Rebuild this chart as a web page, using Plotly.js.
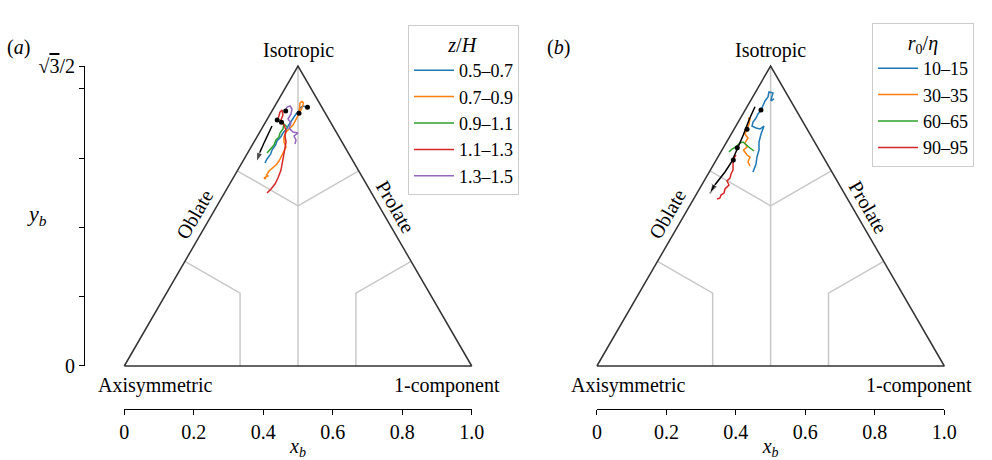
<!DOCTYPE html>
<html><head><meta charset="utf-8">
<script src="https://cdn.plot.ly/plotly-3.0.1.min.js"></script>
<style>html,body{margin:0;padding:0;background:#fff}#chart{width:992px;height:460px}</style>
</head><body><div id="chart"></div>
<script>
// ---------- data (barycentric coordinates x_b, y_b) ----------
const zhLabels = ['0.5–0.7', '0.7–0.9', '0.9–1.1', '1.1–1.3', '1.3–1.5'];
const r0Labels = ['10–15', '30–35', '60–65', '90–95'];
const seriesColors = ['#1f77b4', '#ff7f0e', '#2ca02c', '#d62728', '#9467bd'];

// panel (a): z/H
const zh1x = [0.5279,0.5144,0.5058,0.5029,0.4942,0.4856,0.4790,0.4712,0.4675,0.4568,0.4502,0.4395,0.4358,0.4252,0.4214,0.4108,0.4050];
const zh1y = [0.7468,0.7506,0.7448,0.7361,0.7275,0.7159,0.7044,0.6928,0.6842,0.6726,0.6611,0.6495,0.6380,0.6235,0.6120,0.5976,0.5860];
const zh2x = [0.5029,0.5043,0.5058,0.5115,0.5158,0.5115,0.5029,0.4942,0.4856,0.4741,0.4655,0.4597,0.4597,0.4655,0.4597,0.4539,0.4453,0.4367,0.4252,0.4165,0.4093,0.4136,0.4021,0.4079];
const zh2y = [0.7304,0.7448,0.7592,0.7636,0.7592,0.7448,0.7275,0.7102,0.6957,0.6842,0.6755,0.6611,0.6466,0.6322,0.6207,0.6062,0.5918,0.5802,0.5716,0.5629,0.5514,0.5485,0.5427,0.5398];
const zh3x = [0.4683,0.4597,0.4568,0.4482,0.4453,0.4367,0.4309,0.4223,0.4165,0.4108];
const zh3y = [0.6899,0.6986,0.6842,0.6726,0.6611,0.6524,0.6380,0.6293,0.6207,0.6149];
const zh4x = [0.4424,0.4482,0.4539,0.4568,0.4511,0.4597,0.4655,0.4626,0.4655,0.4626,0.4597,0.4568,0.4511,0.4424,0.4338,0.4223,0.4108];
const zh4y = [0.7130,0.7332,0.7390,0.7246,0.7102,0.6957,0.6813,0.6640,0.6466,0.6293,0.6091,0.5889,0.5658,0.5427,0.5254,0.5110,0.4994];
const zh5x = [0.4626,0.4683,0.4770,0.4827,0.4798,0.4712,0.4798,0.4741,0.4856,0.5000,0.4885,0.4942,0.4914];
const zh5y = [0.7332,0.7477,0.7506,0.7419,0.7275,0.7130,0.7015,0.6871,0.6755,0.6726,0.6640,0.6524,0.6409];
const zhStartX = [0.5273,0.5029,0.4525,0.4401,0.4646];
const zhStartY = [0.7468,0.7295,0.7035,0.7102,0.7361];
const arrowAx = [0.4252,0.4136,0.4021,0.3906,0.3805];
const arrowAy = [0.6928,0.6697,0.6438,0.6178,0.5889];

// panel (b): r0/eta
const r1x = [0.5098,0.5011,0.5040,0.5069,0.4954,0.4925,0.4839,0.4781,0.4724,0.4637,0.4580,0.4493,0.4465,0.4580,0.4695,0.4810,0.4724,0.4666,0.4666,0.4608,0.4580,0.4493];
const r1y = [0.7708,0.7650,0.7794,0.7881,0.7910,0.7765,0.7650,0.7535,0.7390,0.7275,0.7159,0.7044,0.6928,0.6871,0.6842,0.6928,0.6697,0.6466,0.6235,0.6033,0.5831,0.5600];
const r2x = [0.4349,0.4407,0.4378,0.4321,0.4263,0.4349,0.4263,0.4321,0.4220,0.4321,0.4407,0.4349,0.4407];
const r2y = [0.7159,0.7130,0.6986,0.6842,0.6697,0.6582,0.6438,0.6322,0.6235,0.6091,0.6033,0.5889,0.5774];
const r3x = [0.3802,0.3889,0.4004,0.4119,0.4205,0.4292,0.4407,0.4522];
const r3y = [0.6178,0.6264,0.6322,0.6438,0.6466,0.6380,0.6293,0.6207];
const r4x = [0.4004,0.3946,0.3918,0.3918,0.3860,0.3831,0.3745,0.3802,0.3687,0.3659,0.3572,0.3543,0.3457];
const r4y = [0.6091,0.6005,0.5831,0.5658,0.5543,0.5427,0.5341,0.5225,0.5110,0.4994,0.4936,0.4850,0.4821];
const r0StartX = [0.4724,0.4321,0.4041,0.3926];
const r0StartY = [0.7390,0.6833,0.6302,0.5947];
const arrowBx = [0.4551,0.4378,0.4214,0.4033,0.3880,0.3687,0.3543,0.3371,0.3256];
const arrowBy = [0.7485,0.7102,0.6668,0.6264,0.5898,0.5600,0.5418,0.5196,0.4985];

// triangle and sub-region boundaries
const SQ3H = Math.sqrt(3) / 2;
const triX = [0, 1, 0.5, 0];
const triY = [0, 0, SQ3H, 0];
const regX = [0.5, 0.5, null, 0.3253, 0.5, 0.6747, null, 0.1745, 0.3333, 0.3333, null, 0.8255, 0.6667, 0.6667];
const regY = [0, SQ3H, null, 0.5634, 0.4625, 0.5634, null, 0.3022, 0.2105, 0, null, 0.3022, 0.2105, 0];

const xTickVals = [0, 0.2, 0.4, 0.6, 0.8, 1.0];
const xTickText = ['0', '0.2', '0.4', '0.6', '0.8', '1.0'];
const yTickVals = [0, SQ3H];
const yTickText = ['0', '√<span style="text-decoration:overline">3</span>/2'];
const yMinorVals = [0.2, 0.4, 0.6, 0.8];

// ---------- layout geometry ----------
const W = 992, H = 460;
const PX = v => v / W, PY = v => 1 - v / H;
const S = 347.4, SY = 346.4, Y0 = 366, XA = 124.3, XB = 596.9;
const FONT = 'Liberation Serif, Times New Roman, serif';

const traces = [];
function panel(xa, ya, sx, sy, names, legendId, sx0, sy0, ax, ay) {
  traces.push({x: regX, y: regY, xaxis: xa, yaxis: ya, mode: 'lines', line: {color: '#c8c8c8', width: 1.5}, showlegend: false, hoverinfo: 'skip'});
  traces.push({x: triX, y: triY, xaxis: xa, yaxis: ya, mode: 'lines', line: {color: '#333333', width: 1.5}, showlegend: false, hoverinfo: 'skip'});
  for (let i = 0; i < sx.length; i++) {
    traces.push({x: sx[i], y: sy[i], xaxis: xa, yaxis: ya, mode: 'lines', name: names[i], legend: legendId,
      line: {color: seriesColors[i], width: 1.5}});
  }
  traces.push({x: sx0, y: sy0, xaxis: xa, yaxis: ya, mode: 'markers', marker: {color: '#000', size: 5}, showlegend: false});
  const sizes = ax.map((v, i) => i === ax.length - 1 ? 10 : 0);
  traces.push({x: ax, y: ay, xaxis: xa, yaxis: ya, mode: 'lines+markers', line: {color: '#000', width: 1.5},
    marker: {symbol: 'arrow', size: sizes, angleref: 'previous', color: '#000'}, showlegend: false});
}
panel('x', 'y', [zh1x, zh2x, zh3x, zh4x, zh5x], [zh1y, zh2y, zh3y, zh4y, zh5y], zhLabels, 'legend', zhStartX, zhStartY, arrowAx, arrowAy);
panel('x2', 'y2', [r1x, r2x, r3x, r4x], [r1y, r2y, r3y, r4y], r0Labels, 'legend2', r0StartX, r0StartY, arrowBx, arrowBy);
// carriers for the tick axes
traces.push({x: [0, 1], y: [0, SQ3H], xaxis: 'x3', yaxis: 'y3', mode: 'none', showlegend: false, hoverinfo: 'skip'});
traces.push({x: [0, 1], y: [0, SQ3H], xaxis: 'x4', yaxis: 'y4', mode: 'none', showlegend: false, hoverinfo: 'skip'});

const hidden = {visible: false, fixedrange: true};
const tickFont = {family: FONT, size: 20, color: '#000'};
const xTickAxis = (x0) => ({domain: [PX(x0), PX(x0 + S)], range: [0, 1], anchor: 'free', position: PY(409),
  showline: true, linecolor: '#000', linewidth: 1, ticks: 'outside', ticklen: 5, tickwidth: 1, tickcolor: '#000',
  tickvals: xTickVals, ticktext: xTickText, tickfont: tickFont, showgrid: false, zeroline: false,
  title: {text: '<i>x<sub>b</sub></i>', font: {family: FONT, size: 20, color: '#000'}, standoff: 0}});

function labels(xr, yr) {
  const base = {xref: xr, yref: yr, showarrow: false, xanchor: 'center', yanchor: 'middle', font: {family: FONT, size: 20, color: '#000'}};
  return [
    Object.assign({}, base, {x: 0.5, y: 0.912, text: 'Isotropic'}),
    Object.assign({}, base, {x: 0.203, y: 0.438, text: 'Oblate', textangle: -60}),
    Object.assign({}, base, {x: 0.781, y: 0.459, text: 'Prolate', textangle: 60}),
    Object.assign({}, base, {x: 0.0898, y: -0.055, text: 'Axisymmetric'}),
    Object.assign({}, base, {x: 0.928, y: -0.055, text: '1-component'})
  ];
}
const legendBase = {xanchor: 'left', yanchor: 'top', bgcolor: '#ffffff', bordercolor: '#cccccc', borderwidth: 1,
  font: {family: FONT, size: 18, color: '#000'}, tracegroupgap: 0, itemwidth: 40};
const paperText = (x, y, text, size) => ({xref: 'paper', yref: 'paper', x: PX(x), y: PY(y), text: text, showarrow: false,
  xanchor: 'center', yanchor: 'middle', font: {family: FONT, size: size, color: '#000'}});

const layout = {
  width: W, height: H, margin: {l: 0, r: 0, t: 0, b: 0}, paper_bgcolor: '#fff', plot_bgcolor: 'rgba(0,0,0,0)',
  hovermode: false, font: {family: FONT, size: 20, color: '#000'},
  xaxis: Object.assign({domain: [PX(84), PX(555)], range: [(84 - XA) / S, (555 - XA) / S], anchor: 'y'}, hidden),
  yaxis: Object.assign({domain: [PY(409), PY(10)], range: [(Y0 - 409) / SY, (Y0 - 10) / SY], anchor: 'x'}, hidden),
  xaxis2: Object.assign({domain: [PX(560), PX(992)], range: [(560 - XB) / S, (992 - XB) / S], anchor: 'y2'}, hidden),
  yaxis2: Object.assign({domain: [PY(409), PY(10)], range: [(Y0 - 409) / SY, (Y0 - 10) / SY], anchor: 'x2'}, hidden),
  xaxis3: xTickAxis(XA),
  yaxis3: {domain: [PY(Y0), PY(Y0 - SQ3H * SY)], range: [0, SQ3H], anchor: 'free', position: PX(84),
    showline: true, linecolor: '#000', linewidth: 1, ticks: 'outside', ticklen: 5, tickwidth: 1, tickcolor: '#000',
    tickvals: yTickVals, ticktext: yTickText, tickfont: tickFont, showgrid: false, zeroline: false,
    minor: {tickmode: 'array', tickvals: yMinorVals, ticks: 'outside', ticklen: 5, tickwidth: 1, tickcolor: '#000', showgrid: false}},
  xaxis4: xTickAxis(XB),
  yaxis4: Object.assign({domain: [PY(Y0), PY(Y0 - SQ3H * SY)], range: [0, SQ3H], anchor: 'x4'}, hidden),
  legend: Object.assign({x: PX(408), y: PY(25), title: {text: '<i>z</i>/<i>H</i>', side: 'top center', font: {family: FONT, size: 20, color: '#000'}}}, legendBase),
  legend2: Object.assign({x: PX(872), y: PY(23), title: {text: '<i>r</i><sub>0</sub>/<i>η</i>', side: 'top center', font: {family: FONT, size: 20, color: '#000'}}}, legendBase),
  annotations: labels('x', 'y').concat(labels('x2', 'y2')).concat([
    paperText(18, 48, '(<i>a</i>)', 20),
    paperText(558, 48, '(<i>b</i>)', 20),
    paperText(37, 215, '<i>y<sub>b</sub></i>', 22)
  ])
};
Plotly.newPlot('chart', traces, layout, {displayModeBar: false, staticPlot: true});
</script></body></html>
